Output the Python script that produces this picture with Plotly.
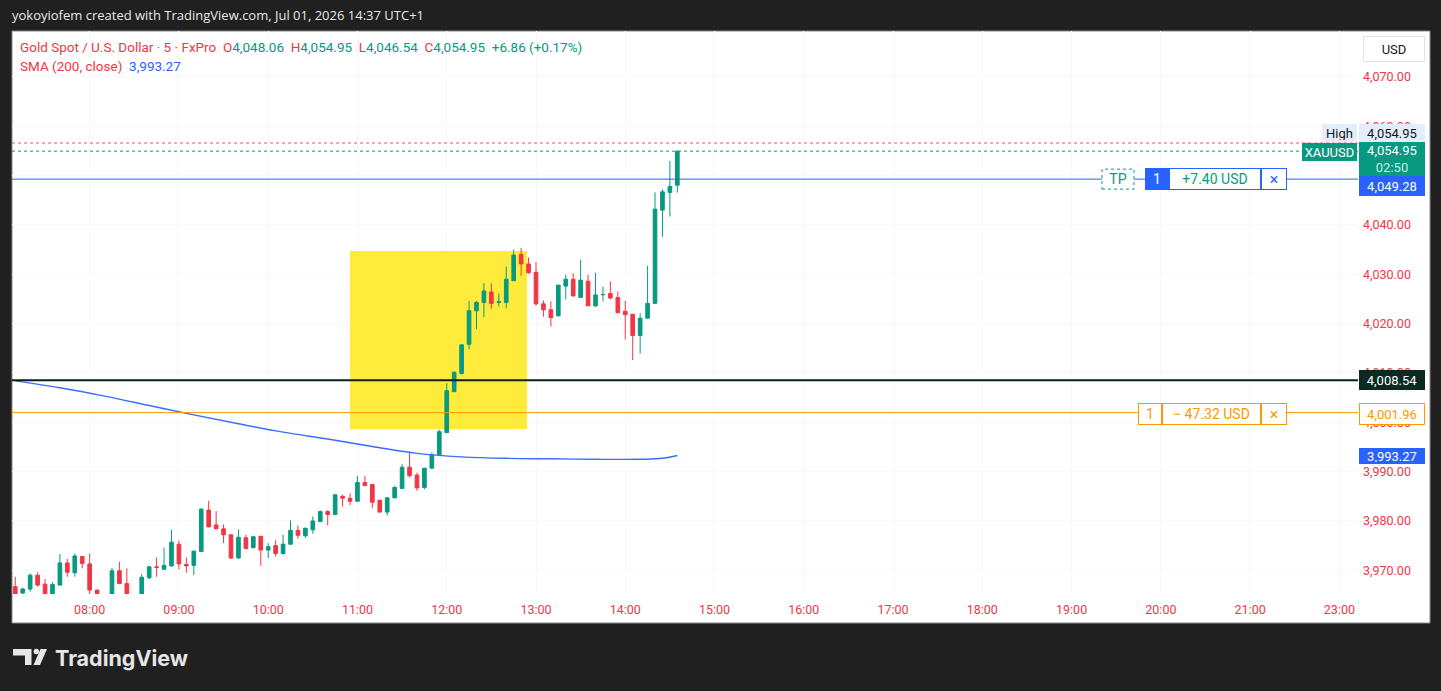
import pandas as pd
import plotly.graph_objs as go

# 5-minute XAUUSD bars, 07:10 -> 14:35 (UTC+1)
bar_start = "2026-07-01 07:10"
n_bars = 90
opens = [3966.7, 3965.4, 3966.2, 3969.0, 3967.2, 3964.9, 3967.0, 3971.5, 3969.5, 3972.8,
         3971.3, 3966.0, 3964.6, 3963.0, 3969.9, 3967.3, 3964.2, 3964.0, 3968.5, 3970.7,
         3970.2, 3970.9, 3975.3, 3971.2, 3971.0, 3973.8, 3982.2, 3979.2, 3978.4, 3977.2,
         3972.5, 3976.6, 3974.6, 3976.9, 3974.1, 3975.0, 3973.4, 3975.3, 3978.1, 3977.0,
         3978.2, 3979.9, 3981.9, 3981.3, 3985.0, 3984.6, 3984.0, 3987.8, 3987.4, 3984.2,
         3981.8, 3984.7, 3986.6, 3990.9, 3989.3, 3986.8, 3990.7, 3993.4, 3997.9, 4006.2,
         4009.9, 4015.8, 4022.6, 4024.3, 4026.4, 4024.3, 4024.3, 4028.7, 4034.0, 4032.1,
         4030.4, 4024.0, 4022.8, 4021.6, 4027.6, 4029.0, 4025.3, 4028.6, 4023.6, 4025.85,
         4026.1, 4025.3, 4022.5, 4021.9, 4017.6, 4021.1, 4024.1, 4043.0, 4046.6, 4048.06]
highs = [3968.7, 3966.5, 3969.4, 3969.6, 3968.2, 3967.6, 3973.3, 3972.3, 3973.4, 3972.8,
         3973.4, 3966.0, 3965.0, 3970.5, 3971.7, 3970.4, 3965.0, 3969.2, 3970.9, 3972.6,
         3974.6, 3978.2, 3976.0, 3972.6, 3973.9, 3982.6, 3984.1, 3982.0, 3979.3, 3977.2,
         3978.3, 3977.2, 3977.0, 3976.9, 3975.5, 3976.1, 3977.2, 3980.1, 3979.1, 3978.7,
         3980.9, 3982.1, 3982.2, 3985.5, 3985.3, 3985.6, 3989.1, 3989.1, 3987.4, 3984.2,
         3984.7, 3987.1, 3991.5, 3994.0, 3989.8, 3990.7, 3993.9, 3998.5, 4007.9, 4010.4,
         4015.7, 4024.6, 4024.6, 4028.2, 4028.2, 4026.1, 4031.6, 4035.0, 4035.3, 4033.4,
         4032.5, 4024.7, 4024.5, 4027.8, 4029.9, 4030.2, 4032.9, 4029.9, 4030.3, 4027.5,
         4028.5, 4026.5, 4024.6, 4021.9, 4022.1, 4031.7, 4046.6, 4047.2, 4053.0, 4054.95]
lows = [3963.0, 3965.0, 3965.7, 3966.7, 3964.5, 3964.6, 3967.0, 3968.7, 3968.7, 3970.4,
        3964.8, 3963.5, 3962.0, 3962.8, 3967.2, 3963.8, 3962.5, 3963.5, 3968.2, 3968.7,
        3970.2, 3970.7, 3970.2, 3969.5, 3969.0, 3973.8, 3978.7, 3978.4, 3975.5, 3972.3,
        3972.3, 3974.3, 3974.4, 3970.9, 3972.5, 3972.8, 3973.2, 3975.2, 3976.4, 3976.6,
        3977.4, 3979.9, 3979.1, 3981.3, 3982.9, 3983.2, 3984.0, 3987.0, 3982.6, 3981.7,
        3981.1, 3984.6, 3986.6, 3988.8, 3986.1, 3986.4, 3990.7, 3993.3, 3997.8, 4006.2,
        4009.7, 4014.8, 4018.9, 4021.3, 4023.0, 4023.5, 4023.1, 4028.7, 4029.7, 4030.1,
        4023.6, 4021.4, 4019.4, 4021.4, 4024.9, 4025.5, 4025.3, 4023.6, 4023.4, 4024.5,
        4024.9, 4022.2, 4016.8, 4012.6, 4013.9, 4021.0, 4024.0, 4037.6, 4041.7, 4046.54]
closes = [3964.8, 3966.2, 3969.0, 3967.0, 3964.9, 3967.1, 3971.5, 3969.6, 3972.9, 3971.4,
          3966.0, 3964.6, 3963.0, 3969.9, 3967.3, 3964.2, 3964.0, 3968.6, 3970.7, 3970.6,
          3971.0, 3975.7, 3971.3, 3970.9, 3973.9, 3982.4, 3978.8, 3978.4, 3977.2, 3972.5,
          3976.7, 3974.4, 3976.8, 3974.1, 3974.8, 3973.4, 3975.3, 3978.1, 3977.1, 3978.5,
          3980.0, 3981.9, 3981.3, 3985.3, 3984.6, 3984.0, 3987.8, 3987.2, 3983.8, 3981.8,
          3984.7, 3986.8, 3990.9, 3989.2, 3986.7, 3990.7, 3993.4, 3998.1, 4006.4, 4010.1,
          4015.7, 4022.6, 4024.3, 4026.6, 4024.1, 4024.4, 4029.0, 4033.9, 4032.1, 4030.3,
          4024.0, 4022.8, 4021.2, 4027.8, 4029.0, 4025.6, 4028.8, 4023.6, 4025.8, 4025.9,
          4025.2, 4022.2, 4021.8, 4017.6, 4021.1, 4024.1, 4043.2, 4046.7, 4047.8, 4054.95]

# SMA(200)
sma_times = ["07:10", "07:40", "08:10", "08:40", "09:10", "09:40", "10:10", "10:40",
             "11:10", "11:40", "12:10", "12:40", "13:10", "13:40", "14:10", "14:25", "14:35"]
sma_values = [4008.4, 4007.0, 4005.3, 4003.4, 4001.5, 3999.7, 3998.0, 3996.6,
              3995.1, 3993.7, 3993.0, 3992.7, 3992.6, 3992.5, 3992.5, 3992.7, 3993.27]

tick_times = ["08:00", "09:00", "10:00", "11:00", "12:00", "13:00", "14:00", "15:00",
              "16:00", "17:00", "18:00", "19:00", "20:00", "21:00", "23:00"]

tp_price = 4049.28
entry_price = 4008.54
sl_price = 4001.96
ask_price = 4056.6
last_price = 4054.95
sma_last = 3993.27
change, change_pct = 6.86, 0.17
zone_start, zone_end = "10:55", "12:54"
zone_top, zone_bottom = 4034.7, 3998.6

UP, DOWN, RED, BLUE, ORANGE = "#089981", "#f23645", "#f23645", "#2962ff", "#ff9800"
day = "2026-07-01 "

times = pd.date_range(bar_start, periods=n_bars, freq="5min")


def px_x(px):
    return (px - 12) / 1346


def px_y(py):
    return (594 - py) / 563


fig = go.Figure()
fig.add_trace(go.Candlestick(
    x=times, open=opens, high=highs, low=lows, close=closes,
    increasing=dict(line=dict(color=UP, width=1), fillcolor=UP),
    decreasing=dict(line=dict(color=DOWN, width=1), fillcolor=DOWN),
    whiskerwidth=0, hoverinfo="skip"))
fig.add_trace(go.Scatter(
    x=[pd.Timestamp(day + t) for t in sma_times], y=sma_values, mode="lines",
    line=dict(color="#3d6cff", width=1.4, shape="spline"), hoverinfo="skip"))

shapes = []
# white chart panel
shapes.append(dict(type="rect", xref="paper", yref="paper", x0=px_x(12), x1=px_x(1430),
                   y0=px_y(623), y1=px_y(31), fillcolor="white",
                   line=dict(color="#8a8a8a", width=1), layer="below"))
# yellow zone
shapes.append(dict(type="rect", xref="x", yref="y", x0=day + zone_start, x1=day + zone_end,
                   y0=zone_bottom, y1=zone_top, fillcolor="#ffeb3b", line=dict(width=0),
                   layer="between"))
# price lines
for price, color, width, dash in [(ask_price, "#f7525f", 1, "dot"), (last_price, UP, 1, "dot"),
                                  (tp_price, BLUE, 1, "solid"), (entry_price, "#0b1f1a", 2, "solid"),
                                  (sl_price, ORANGE, 1, "solid")]:
    shapes.append(dict(type="line", xref="paper", yref="y", x0=0, x1=1, y0=price, y1=price,
                       line=dict(color=color, width=width, dash=dash), layer="above"))
# TP dotted tag
shapes.append(dict(type="rect", xref="paper", yref="y", ysizemode="pixel", yanchor=tp_price,
                   x0=px_x(1102), x1=px_x(1134), y0=-10, y1=10, fillcolor="white",
                   line=dict(color=UP, width=1, dash="dot"), layer="above"))


# TradingView logo
def poly(points):
    return "M " + " L ".join(f"{px_x(a):.5f},{px_y(b):.5f}" for a, b in points) + " Z"


shapes.append(dict(type="path", xref="paper", yref="paper", line=dict(width=0), fillcolor="#e6e6e6",
                   path=poly([(13, 649), (31.5, 649), (31.5, 665), (25, 665), (25, 655.5), (13, 655.5)])))
shapes.append(dict(type="path", xref="paper", yref="paper", line=dict(width=0), fillcolor="#e6e6e6",
                   path=poly([(40.5, 649), (47, 649), (40, 665), (33.5, 665)])))
shapes.append(dict(type="circle", xref="paper", yref="paper", line=dict(width=0), fillcolor="#e6e6e6",
                   x0=px_x(33.6), x1=px_x(39), y0=px_y(654.2), y1=px_y(648.8)))

ann = []


def tag(text, left, right, price, yshift, bg, fg, border, h=16, size=13):
    ann.append(dict(text=text, xref="paper", yref="y", x=px_x((left + right) / 2), y=price,
                    xanchor="center", yanchor="middle", yshift=yshift, showarrow=False,
                    width=right - left - 4, height=h, bgcolor=bg, bordercolor=border,
                    borderwidth=1, borderpad=1, font=dict(color=fg, size=size)))


tag("TP", 1102, 1134, tp_price, 0, "rgba(0,0,0,0)", UP, "rgba(0,0,0,0)", 16, 14)
tag("1", 1145, 1169, tp_price, 0, BLUE, "white", BLUE, 18, 14)
tag("+7.40 USD", 1169, 1261, tp_price, 0, "white", UP, BLUE, 18, 14)
tag("×", 1261, 1287, tp_price, 0, "white", BLUE, BLUE, 18, 16)
tag("1", 1138, 1162, sl_price, -1, "white", ORANGE, ORANGE, 18, 14)
tag("\u2212 47.32 USD", 1162, 1261, sl_price, -1, "white", ORANGE, ORANGE, 18, 14)
tag("×", 1261, 1287, sl_price, -1, "white", ORANGE, ORANGE, 18, 16)

tag("High", 1322, 1357, last_price, 18, "#e3eefc", "#131722", "#e3eefc", 14)
tag(f"{last_price:,.2f}", 1359, 1425, last_price, 18, "#e3eefc", "#131722", "#e3eefc", 14)
tag("XAUUSD", 1302, 1357, last_price, -1, UP, "white", UP, 14)
tag(f"{last_price:,.2f}<br><span style='color:#c8ece3'>02:50</span>", 1359, 1425, last_price, -8,
    UP, "white", UP, 30)
tag(f"{tp_price:,.2f}", 1359, 1425, tp_price, -7, BLUE, "white", BLUE, 16)
tag(f"{entry_price:,.2f}", 1359, 1425, entry_price, 0, "#0c2a22", "white", "#0c2a22", 16)
tag(f"{sl_price:,.2f}", 1359, 1425, sl_price, -1, "white", ORANGE, ORANGE, 18)
tag(f"{sma_last:,.2f}", 1359, 1425, sma_last, 0, BLUE, "white", BLUE, 12)

ann.append(dict(text="USD", xref="paper", yref="paper", x=px_x(1394), y=px_y(49), showarrow=False,
                xanchor="center", yanchor="middle", width=58, height=22, bgcolor="white",
                bordercolor="#e0e3eb", borderwidth=1, font=dict(color="#131722", size=13)))

sp = "\u00a0\u00a0"
ohlc = (f"<span style='color:{RED}'>O</span>{opens[-1]:,.2f}{sp}"
        f"<span style='color:{RED}'>H</span>{highs[-1]:,.2f}{sp}"
        f"<span style='color:{RED}'>L</span>{lows[-1]:,.2f}{sp}"
        f"<span style='color:{RED}'>C</span>{closes[-1]:,.2f}{sp}"
        f"+{change:.2f} (+{change_pct:.2f}%)")
ann.append(dict(text=f"<span style='color:{RED}'>Gold Spot / U.S. Dollar · 5 · FxPro</span>{sp}"
                     f"<span style='color:{UP}'>{ohlc}</span>",
                xref="paper", yref="paper", x=px_x(18), y=px_y(47), xanchor="left", yanchor="middle",
                showarrow=False, font=dict(size=13.5, color=UP)))
ann.append(dict(text=f"<span style='color:{RED}'>SMA (200, close)</span>{sp}"
                     f"<span style='color:{BLUE}'>{sma_last:,.2f}</span>",
                xref="paper", yref="paper", x=px_x(18), y=px_y(66), xanchor="left", yanchor="middle",
                showarrow=False, font=dict(size=13.5)))
ann.append(dict(text="yokoyiofem created with TradingView.com, Jul 01, 2026 14:37 UTC+1",
                xref="paper", yref="paper", x=px_x(10), y=px_y(15), xanchor="left", yanchor="middle",
                showarrow=False, font=dict(family="Open Sans", size=13, color="#e8e8e8")))
ann.append(dict(text="<b>TradingView</b>", xref="paper", yref="paper", x=px_x(53), y=px_y(658),
                xanchor="left", yanchor="middle", showarrow=False,
                font=dict(family="Inter", size=21.5, color="#e6e6e6")))

fig.update_layout(
    width=1441, height=691,
    margin=dict(l=12, r=83, t=31, b=97),
    paper_bgcolor="#202020", plot_bgcolor="white",
    showlegend=False, hovermode=False,
    font=dict(family="Roboto", size=12),
    shapes=shapes, annotations=ann,
    xaxis=dict(type="date", range=[day + "07:07:48", day + "23:12:30"],
               rangebreaks=[dict(bounds=[22, 23], pattern="hour")],
               tickvals=[day + t for t in tick_times], tickformat="%H:%M",
               tickfont=dict(color=RED, size=12.5), showgrid=True, gridcolor="#f7f8fa",
               zeroline=False, showline=False, ticks="", ticklabelstandoff=6,
               rangeslider=dict(visible=False)),
    yaxis=dict(side="right", range=[3965.2, 4079.3], dtick=10, tick0=4000, tickformat=",.2f",
               tickfont=dict(color=RED, size=12.5), showgrid=True, gridcolor="#f7f8fa",
               zeroline=False, showline=False, ticks="", ticklabelstandoff=4),
)

fig.write_html("out.html", config={"displayModeBar": False},
               post_script="document.body.style.margin='0px';document.body.style.overflow='hidden';")
